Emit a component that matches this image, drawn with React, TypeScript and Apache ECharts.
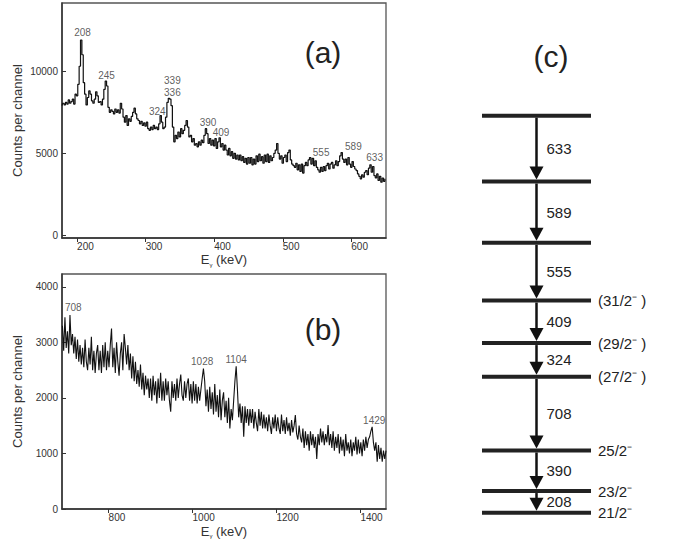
import React, { useEffect, useRef } from 'react';
import * as echarts from 'echarts';

const FONT = "'Liberation Sans', Arial, Helvetica, sans-serif";

// ---- Panel (a): coincidence spectrum, 178-650 keV, 2 keV channels ----
const A_START_KEV = 178;
const A_STEP_KEV = 2;
const countsA = [
  7900, 8050, 7950, 8100, 8000, 8250, 8050, 8150, 8300, 8000,
  8600, 8500, 9200, 10300, 11900, 11000, 9300, 8600, 7950, 8400,
  8800, 8600, 8200, 8050, 8300, 8750, 8500, 8100, 8150, 7950,
  8300, 8900, 9400, 9100, 7800, 7500, 7650, 7550, 7400, 7700,
  7500, 7650, 7450, 8050, 7700, 7200, 6900, 7300, 6700, 7100,
  6950, 7250, 7500, 7750, 7400, 7100, 7000, 6800, 6950, 6700,
  6850, 6650, 6900, 6500, 6400, 6600, 6450, 6700, 6500, 6600,
  6450, 6800, 7300, 6900, 6500, 6600, 7200, 8100, 8350, 8300,
  7900, 6600, 5700, 6100, 5900, 6300, 6000, 6500, 6200, 6400,
  6700, 7000, 6600, 6000, 6100, 5700, 5900, 5500, 5600, 5400,
  5700, 5500, 5800, 5650, 6100, 6500, 6200, 5600, 5900, 5500,
  5800, 5450, 5900, 5300, 5700, 5950, 5400, 5600, 5200, 5500,
  5200, 4900, 5300, 4850, 5100, 4700, 5000, 4650, 4900, 4600,
  4900, 4550, 4800, 4450, 4700, 4350, 4750, 4400, 4750, 4300,
  4650, 4350, 4850, 4500, 4950, 4550, 4800, 4400, 4900, 4500,
  4950, 4450, 4850, 4550, 4750, 5000, 5200, 5600, 5000, 4650,
  4850, 4400, 4750, 4900, 4500, 5050, 5200, 4600, 4350, 4250,
  4150, 4400, 4000, 4300, 3900, 4350, 3800, 4250, 4450, 4250,
  4600, 4750, 4350, 4700, 4250, 4550, 4150, 4000, 3850, 4150,
  3900, 4200, 3950, 4250, 4400, 4050, 4350, 4450, 4100, 4300,
  4550, 4250, 4500, 4850, 5050, 4650, 4450, 4650, 4300, 4750,
  4350, 4150, 4500, 4200, 4050, 3950, 3750, 3600, 3450, 3700,
  3550, 3850, 3950, 3700, 4100, 4300, 3850, 4200, 3650, 3500,
  3750, 3350, 3600, 3250, 3500, 3300, 3450,
];

// ---- Panel (b): spectrum, 690-1461 keV, 3 keV channels ----
const B_START_KEV = 690;
const B_STEP_KEV = 3;
const countsB = [
  3300, 2850, 3450, 2900, 3200, 2800, 3490, 2950, 3150, 2800,
  3100, 2700, 3050, 2650, 2950, 2600, 2900, 2550, 3050, 2650,
  2500, 2900, 2600, 3100, 2500, 2850, 2450, 2800, 2950, 2500,
  2850, 2450, 2950, 2550, 3000, 2500, 2850, 2550, 2950, 3250,
  2550, 2900, 2450, 3000, 2650, 2400, 2800, 3000, 2500, 3150,
  2900, 2600, 2950, 2500, 2800, 2350, 2750, 2300, 2650, 2250,
  2500, 2200, 2600, 2150, 2450, 2050, 2400, 2150, 2350, 2000,
  2350, 1950, 2400, 2050, 2300, 1900, 2350, 2000, 2450, 1950,
  2300, 1950, 2350, 2050, 2300, 1950, 1750, 2300, 2000, 2250,
  1950, 2350, 2000, 2250, 2420, 2050, 1950, 2300, 2000, 2250,
  2350, 1950, 2250, 1900, 2300, 1950, 2250, 1900, 2200, 1950,
  2150, 2350, 2530, 2300, 1850, 2150, 1750, 2200, 1800, 2100,
  1700, 2250, 1750, 2050, 1650, 2150, 1600, 1950, 2100, 1650,
  1950, 1550, 2000, 1450, 1800, 1600, 1950, 2300, 2570, 2150,
  1650, 1900, 1550, 1850, 1300, 1850, 1550, 1800, 1500, 1800,
  1550, 1800, 1450, 1750, 1550, 1400, 1800, 1500, 1750, 1450,
  1700, 1450, 1650, 1400, 1700, 1500, 1350, 1650, 1450, 1700,
  1400, 1650, 1450, 1350, 1700, 1400, 1600, 1350, 1650, 1400,
  1550, 1320, 1600, 1380, 1500, 1690, 1350, 1250, 1500, 1300,
  1200, 1450, 1100, 1400, 1150, 1350, 1050, 1400, 1150, 1350,
  1100, 1300, 900, 1350, 1150, 1450, 1200, 1400, 1150, 1350,
  1200, 1510, 1150, 1350, 1100, 1400, 1050, 1300, 1100, 1350,
  1000, 1300, 1050, 1250, 950, 1350, 1050, 1200, 1000, 1250,
  950, 1200, 1050, 1300, 980, 1250, 1000, 1200, 950, 1250,
  1050, 1300, 1100, 1250, 1300, 1400, 1480, 1200, 1050, 1200,
  850, 1150, 900, 1100, 850, 1050, 900, 1050,
];

// ---- Axis ticks ----
const xTicksA = [200, 300, 400, 500, 600];
const yTicksA = [0, 5000, 10000];
const xTicksB = [800, 1000, 1200, 1400];
const yTicksB = [0, 1000, 2000, 3000, 4000];

// ---- Peak labels (energy, counts at label centre) ----
const peakNamesA = ['208', '245', '339', '336', '324', '390', '409', '555', '589', '633'];
const peakEA = [208, 243, 339, 339, 317, 391, 410, 556, 603, 634];
const peakYA = [12360, 9760, 9450, 8730, 7575, 6850, 6300, 5030, 5390, 4730];

const peakNamesB = ['708', '1028', '1104', '1429'];
const peakEB = [716, 1023, 1104, 1433];
const peakYB = [3620, 2660, 2695, 1600];

// ---- Panel (c): level scheme ----
const gammaEnergies = [208, 390, 708, 324, 409, 555, 589, 633]; // bottom -> top
const levelSpins = ['21/2\u207B', '23/2\u207B', '25/2\u207B', '(27/2\u207B )', '(29/2\u207B )', '(31/2\u207B )', '', '', ''];

const levelEnergies: number[] = [0];
gammaEnergies.forEach((g, i) => levelEnergies.push(levelEnergies[i] + g));

const TEXT = '#333';
const INK = '#111';

function xAxisCfg(gridIndex: number, min: number, max: number, ticks: number[], nameGap: number) {
  return {
    type: 'value', gridIndex, min, max,
    name: 'E{g|\u03B3} (keV)', nameLocation: 'middle', nameGap,
    nameTextStyle: {
      fontFamily: FONT, fontSize: 13, color: TEXT, lineHeight: 16,
      rich: { g: { fontFamily: FONT, fontSize: 6, color: TEXT, verticalAlign: 'bottom', lineHeight: 16 } },
    },
    axisLine: { show: true, onZero: false, lineStyle: { color: '#333', width: 1.5 } },
    axisTick: { show: true, inside: false, length: 4, customValues: ticks, lineStyle: { color: '#333', width: 1 } },
    axisLabel: { show: true, customValues: ticks, align: 'left', margin: 3, fontSize: 10, color: TEXT, fontFamily: FONT, formatter: (v: number) => String(v) },
    splitLine: { show: false },
  };
}

function yAxisCfg(gridIndex: number, min: number, max: number, ticks: number[]) {
  return {
    type: 'value', gridIndex, min, max,
    name: 'Counts per channel', nameLocation: 'middle', nameGap: 38,
    nameTextStyle: { fontFamily: FONT, fontSize: 13, color: TEXT },
    axisLine: { show: true, onZero: false, lineStyle: { color: '#333', width: 1.5 } },
    axisTick: { show: true, inside: true, length: 4, customValues: ticks, lineStyle: { color: '#333', width: 1 } },
    axisLabel: { show: true, customValues: ticks, margin: 4, fontSize: 10, color: TEXT, fontFamily: FONT, padding: [0, 0, 6, 0], formatter: (v: number) => String(v) },
    splitLine: { show: false },
  };
}

function labelSeries(xi: number, names: string[], es: number[], ys: number[]) {
  return {
    type: 'scatter', xAxisIndex: xi, yAxisIndex: xi, silent: true,
    symbolSize: 1, itemStyle: { color: 'transparent' },
    label: { show: true, position: 'inside', formatter: (p: any) => p.name, fontSize: 10, color: TEXT, fontFamily: FONT },
    data: names.map((n, i) => ({ name: n, value: [es[i], ys[i]] })),
  };
}

export default function App() {
  const ref = useRef<HTMLDivElement>(null);
  useEffect(() => {
    if (!ref.current) return;
    const chart = echarts.init(ref.current, null, { renderer: 'svg' });
    const dataA = countsA.map((v, i) => [A_START_KEV + i * A_STEP_KEV, v]);
    const dataB = countsB.map((v, i) => [B_START_KEV + i * B_STEP_KEV, v]);

    const option: any = {
      animation: false,
      backgroundColor: '#fff',
      grid: [
        { left: 62, top: 3, width: 324, height: 235, show: true, borderColor: '#555', borderWidth: 1.3, backgroundColor: 'transparent', containLabel: false, outerBoundsMode: 'none' },
        { left: 62, top: 274, width: 324, height: 235, show: true, borderColor: '#555', borderWidth: 1.3, backgroundColor: 'transparent', containLabel: false, outerBoundsMode: 'none' },
        { left: 482, top: 75.7, width: 109, height: 457.8, show: false, containLabel: false, outerBoundsMode: 'none' },
      ],
      xAxis: [
        xAxisCfg(0, 178, 650.6, xTicksA, 11),
        xAxisCfg(1, 689, 1461, xTicksB, 14),
        { type: 'value', gridIndex: 2, min: 0, max: 1, show: false },
      ],
      yAxis: [
        yAxisCfg(0, -150, 14150, yTicksA),
        yAxisCfg(1, 0, 4230, yTicksB),
        { type: 'value', gridIndex: 2, min: -200, max: 4200, show: false },
      ],
      graphic: [
        { type: 'text', x: 323, y: 52, style: { text: '(a)', fontSize: 30, fontFamily: FONT, fill: '#222', align: 'center', verticalAlign: 'middle' } },
        { type: 'text', x: 323, y: 329, style: { text: '(b)', fontSize: 30, fontFamily: FONT, fill: '#222', align: 'center', verticalAlign: 'middle' } },
        { type: 'text', x: 551, y: 56, style: { text: '(c)', fontSize: 30, fontFamily: FONT, fill: '#222', align: 'center', verticalAlign: 'middle' } },
      ],
      series: [
        {
          type: 'line', xAxisIndex: 0, yAxisIndex: 0, step: 'middle', showSymbol: false, symbol: 'none', silent: true,
          lineStyle: { color: INK, width: 1.2 }, data: dataA,
        },
        labelSeries(0, peakNamesA, peakEA, peakYA),
        {
          type: 'line', xAxisIndex: 1, yAxisIndex: 1, showSymbol: false, symbol: 'none', silent: true,
          lineStyle: { color: INK, width: 1.1 }, data: dataB,
        },
        labelSeries(1, peakNamesB, peakEB, peakYB),
        {
          type: 'custom', coordinateSystem: 'cartesian2d', xAxisIndex: 2, yAxisIndex: 2, silent: true,
          data: levelEnergies.map((e) => [0, e]),
          renderItem: (params: any, api: any) => {
            const e = api.value(1);
            const a = api.coord([0, e]);
            const b = api.coord([1, e]);
            const children: any[] = [
              { type: 'rect', shape: { x: a[0], y: a[1] - 2, width: b[0] - a[0], height: 4 }, style: { fill: '#222' } },
            ];
            const s = levelSpins[params.dataIndex];
            if (s) {
              children.push({ type: 'text', x: b[0] + 7, y: a[1], style: { text: s, fontSize: 15, fontFamily: FONT, fill: '#222', align: 'left', verticalAlign: 'middle' } });
            }
            return { type: 'group', children };
          },
        },
        {
          type: 'custom', coordinateSystem: 'cartesian2d', xAxisIndex: 2, yAxisIndex: 2, silent: true,
          encode: { x: 0, y: [1, 2] },
          data: gammaEnergies.map((g, i) => [0.5, levelEnergies[i + 1], levelEnergies[i]]),
          renderItem: (params: any, api: any) => {
            const top = api.coord([0.5, api.value(1)]);
            const bot = api.coord([0.5, api.value(2)]);
            const x = top[0];
            const tip = bot[1] - 2;
            const base = tip - 13;
            return {
              type: 'group',
              children: [
                { type: 'line', shape: { x1: x, y1: top[1] + 2, x2: x, y2: base + 1 }, style: { stroke: '#111', lineWidth: 2.5 } },
                { type: 'polygon', shape: { points: [[x - 7, base], [x + 7, base], [x, tip]] }, style: { fill: '#111' } },
                { type: 'text', x: x + 10, y: (top[1] + bot[1]) / 2, style: { text: String(gammaEnergies[params.dataIndex]), fontSize: 15, fontFamily: FONT, fill: '#222', align: 'left', verticalAlign: 'middle' } },
              ],
            };
          },
        },
      ],
    };
    chart.setOption(option);
    return () => chart.dispose();
  }, []);
  return <div ref={ref} style={{ position: 'fixed', left: 0, top: 0, width: 675, height: 545 }} />;
}
